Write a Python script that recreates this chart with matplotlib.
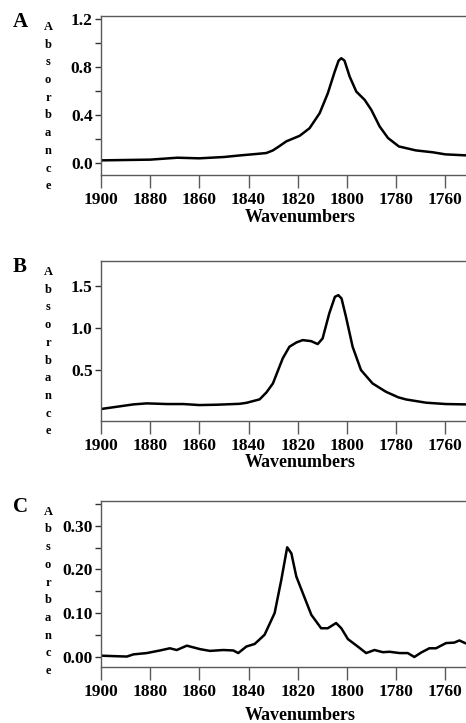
import matplotlib
matplotlib.use("Agg")
import matplotlib.pyplot as plt
from matplotlib.ticker import FixedLocator

plt.rcParams['font.family'] = ['Liberation Serif', 'DejaVu Serif']
plt.rcParams['font.weight'] = 'bold'

# panel A spectrum
wn_a = [1900, 1880, 1869, 1860, 1850, 1843.6, 1837, 1832.8, 1830.1, 1827.5, 1824.7,
        1819.2, 1815.2, 1811.1, 1807.8, 1805, 1803.4, 1802.3, 1801, 1798.9,
        1796.2, 1792.8, 1790.1, 1786.7, 1783.3, 1778.9, 1772, 1765, 1760, 1752]
abs_a = [0.022, 0.028, 0.044, 0.039, 0.05, 0.063, 0.075, 0.083, 0.105, 0.14, 0.18,
         0.227, 0.29, 0.415, 0.58, 0.76, 0.853, 0.873, 0.853, 0.72,
         0.595, 0.526, 0.443, 0.304, 0.208, 0.138, 0.105, 0.089, 0.072, 0.064]

# panel B spectrum
wn_b = [1900, 1893.5, 1886.8, 1881.4, 1873, 1866.5, 1860, 1853, 1846, 1843.6,
        1840.8, 1835.5, 1832.7, 1830.1, 1826.1, 1823.4, 1820.5, 1818, 1814.6,
        1811.9, 1809.9, 1807.2, 1804.9, 1803.5, 1802.2, 1800.4, 1797.7, 1794.3,
        1789.6, 1784.2, 1779.1, 1776, 1767.8, 1759.7, 1752]
abs_b = [0.036, 0.063, 0.091, 0.103, 0.095, 0.095, 0.083, 0.087, 0.095, 0.098,
         0.11, 0.151, 0.235, 0.341, 0.64, 0.778, 0.83, 0.857, 0.845,
         0.81, 0.877, 1.175, 1.373, 1.393, 1.353, 1.135, 0.778, 0.5,
         0.341, 0.242, 0.175, 0.15, 0.111, 0.095, 0.091]

# panel C spectrum
wn_c = [1900, 1894.9, 1889.5, 1886.8, 1881.4, 1876, 1872, 1869.2, 1865.1, 1859.7,
        1855.7, 1850.3, 1846.2, 1844.2, 1840.9, 1837.5, 1833.5, 1829.4, 1826.7,
        1824.3, 1822.6, 1820.6, 1817.9, 1814.5, 1810.5, 1807.8, 1804.4, 1802.3,
        1799.6, 1795.6, 1792.2, 1788.8, 1785.4, 1782.7, 1778.6, 1775.3, 1772.6,
        1769.9, 1766.5, 1763.8, 1759.7, 1756.4, 1754.3, 1752]
abs_c = [0.002, 0.001, 0.0, 0.005, 0.008, 0.014, 0.019, 0.015, 0.025, 0.017,
         0.013, 0.015, 0.014, 0.008, 0.023, 0.029, 0.05, 0.1, 0.176,
         0.251, 0.237, 0.184, 0.145, 0.096, 0.065, 0.065, 0.077, 0.065,
         0.04, 0.023, 0.008, 0.015, 0.01, 0.011, 0.008, 0.008, -0.001,
         0.009, 0.019, 0.019, 0.031, 0.032, 0.037, 0.031]

x_ticks = [1900, 1880, 1860, 1840, 1820, 1800, 1780, 1760]

panels = [
    # letter, x, y, (left, top, bottom) px, ylim, major, minor, fmt, xlabel y px
    ("A", wn_a, abs_a, [101, 16, 175], (-0.1, 1.225), [0.0, 0.4, 0.8, 1.2], [0.2, 0.6, 1.0], "{:.1f}", 218),
    ("B", wn_b, abs_b, [101, 261, 421], (-0.107, 1.8), [0.5, 1.0, 1.5], [], "{:.1f}", 463),
    ("C", wn_c, abs_c, [101, 500.7, 667], (-0.024, 0.358), [0.0, 0.1, 0.2, 0.3], [0.05, 0.15, 0.25, 0.35], "{:.2f}", 716),
]

W, H = 466, 723
fig = plt.figure(figsize=(W / 100, H / 100), dpi=100)
spine_col = "#5a5a5a"

for letter, xs, ys, (left, top, bottom), ylim, major, minor, fmt, xlab_y in panels:
    ax = fig.add_axes([left / W, 1 - bottom / H, 1 - left / W, (bottom - top) / H])
    ax.plot(xs, ys, color="black", lw=1.8, solid_joinstyle="round")
    ax.set_xlim(1900, 1751.6)
    ax.set_ylim(*ylim)
    ax.spines["right"].set_visible(False)
    for s in ["top", "left", "bottom"]:
        ax.spines[s].set_color(spine_col)
        ax.spines[s].set_linewidth(1.0)
    ax.xaxis.set_major_locator(FixedLocator(x_ticks))
    ax.set_xticklabels([str(t) for t in x_ticks])
    ax.yaxis.set_major_locator(FixedLocator(major))
    ax.set_yticklabels([fmt.format(v) for v in major])
    if minor:
        ax.yaxis.set_minor_locator(FixedLocator(minor))
    ax.tick_params(axis="x", length=9, width=1.0, color=spine_col, pad=3, labelsize=12.5)
    ax.tick_params(axis="y", which="both", length=4, width=1.0, color="#333333", pad=2, labelsize=12.5)
    for lab in ax.get_xticklabels() + ax.get_yticklabels():
        lab.set_fontweight("bold")

    fig.text(20 / W, 1 - (top + 6) / H, letter, fontsize=15, fontweight="bold",
             ha="center", va="center")
    for i, ch in enumerate("Absorbance"):
        fig.text(48 / W, 1 - (top + 11 + i * 17.7) / H, ch, fontsize=9,
                 fontweight="bold", ha="center", va="center")
    fig.text(300 / W, 1 - xlab_y / H, "Wavenumbers", fontsize=13,
             fontweight="bold", ha="center", va="center")

fig.savefig("out.png", dpi=100)
